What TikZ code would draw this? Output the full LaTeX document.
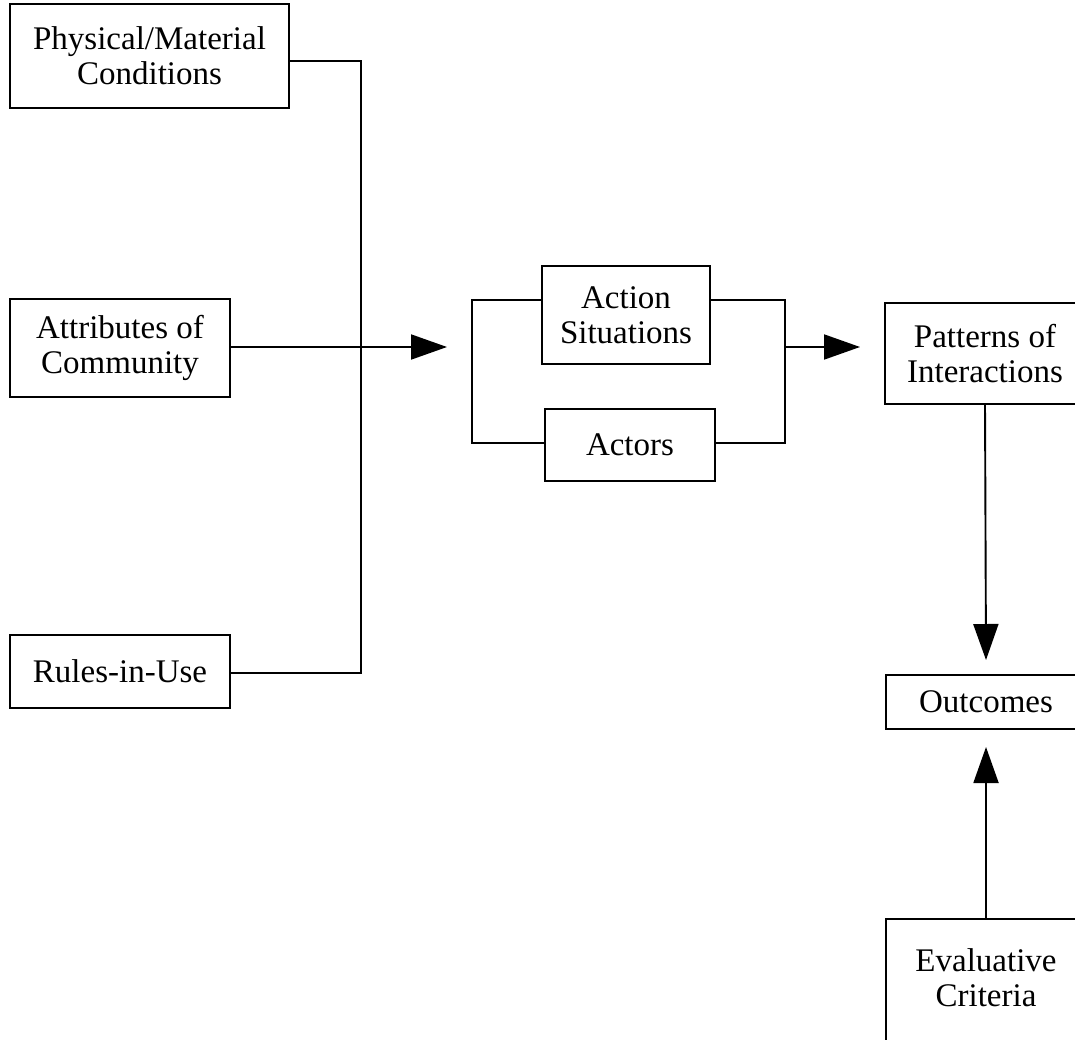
\documentclass[tikz,border=0pt]{standalone}
\usepackage{fontspec}
\setmainfont{Liberation Serif}
\usetikzlibrary{arrows.meta}
\begin{document}
\begin{tikzpicture}[x=1pt,y=-1pt,
  box/.style={draw, line width=1.9pt, inner sep=0pt, align=center,
    font=\fontsize{33}{35}\selectfont},
  txt/.style={inner sep=0pt, align=center, font=\fontsize{33}{35}\selectfont},
  conn/.style={line width=1.9pt},
  arr/.style={line width=1.9pt, -{Triangle[length=36pt,width=25pt]}}]
\useasboundingbox (0,0) rectangle (1075,1040);
% left boxes
\node[box, minimum width=279pt, minimum height=104pt] (phys) at (149.5,56) {Physical/Material\\Conditions};
\node[box, minimum width=220pt, minimum height=98pt] (attr) at (120,348) {Attributes of\\Community};
\node[box, minimum width=220pt, minimum height=73pt] (rules) at (120,671.5) {Rules-in-Use};
% middle boxes
\node[box, minimum width=168pt, minimum height=98pt] (action) at (626,315) {Action\\Situations};
\node[box, minimum width=170pt, minimum height=72pt] (actors) at (630,445) {Actors};
% right boxes
\node[box, minimum width=200pt, minimum height=101pt] (patt) at (985,353.5) {Patterns of\\Interactions};
\node[box, minimum width=200pt, minimum height=54pt] (outc) at (986,702) {Outcomes};
\node[box, minimum width=200pt, minimum height=170pt, anchor=north] (eval) at (986,918) {};
\node[txt] (evaltxt) at (986,978) {Evaluative\\Criteria};
% coordinates
\coordinate (bustop) at (361,61);
\coordinate (busbot) at (361,673);
\coordinate (intip) at (447,347);
\coordinate (bl1) at (472,300);
\coordinate (bl2) at (472,443);
\coordinate (br1) at (785,300);
\coordinate (br2) at (785,443);
\coordinate (bmid) at (785,347);
\coordinate (ptip) at (860,347);
\coordinate (otip) at (986,660);
\coordinate (utip) at (986,747);
% connectors
\draw[conn] (phys.east |- bustop) -- (bustop) -- (busbot) -- (rules.east |- busbot);
\draw[arr] (attr.east |- intip) -- (intip);
\draw[conn] (action.west |- bl1) -- (bl1) -- (bl2) -- (actors.west |- bl2);
\draw[conn] (action.east |- br1) -- (br1) -- (br2) -- (actors.east |- br2);
\draw[arr] (bmid) -- (ptip);
\draw[arr] (patt.south |- 0,404) -- (otip);
\draw[arr] (eval.north) -- (utip);
\end{tikzpicture}
\end{document}
